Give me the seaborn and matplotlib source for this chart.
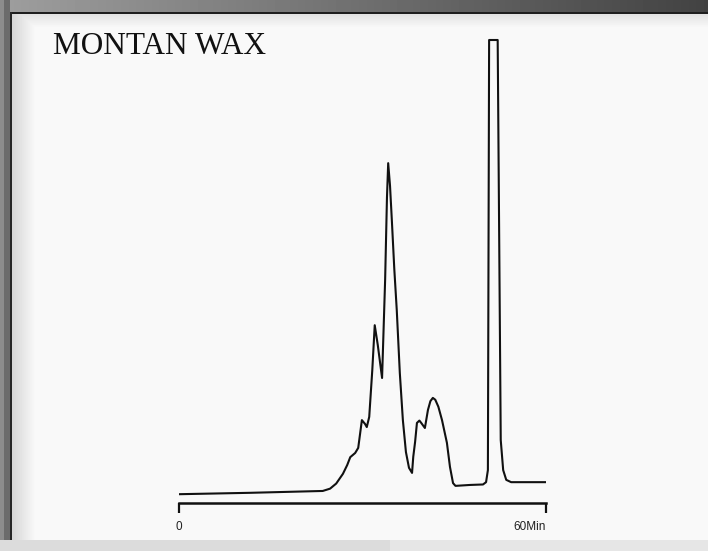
"""Montan wax gas chromatogram, redrawn from a scanned trace."""
import matplotlib
matplotlib.use("Agg")
import matplotlib.pyplot as plt
import numpy as np
import pandas as pd
import seaborn as sns

# retention time (min) and detector response (% of full scale)
time_min = [0.0, 11.6, 23.5, 24.7, 25.7, 26.8, 27.5, 28.0, 28.8, 29.3, 29.9,
            30.4, 30.7, 31.1, 31.6, 32.0, 32.5, 33.2, 33.7, 34.0, 34.2, 34.5,
            34.8, 35.2, 35.6, 36.1, 36.6, 37.1, 37.6, 38.1, 38.3, 38.6, 38.9,
            39.3, 39.6, 40.2, 40.7, 41.1, 41.5, 41.9, 42.4, 43.0, 43.8, 44.3,
            44.8, 45.2, 47.6, 49.7, 50.2, 50.5, 50.7, 52.1, 52.6, 53.0, 53.5,
            54.3, 60.0]
response = [1.9, 2.2, 2.6, 3.1, 4.2, 6.3, 8.2, 9.9, 10.8, 11.9, 17.9,
            17.1, 16.4, 18.6, 28.7, 38.4, 34.1, 27.0, 48.2, 66.0, 73.4, 68.5,
            61.0, 50.5, 41.7, 28.1, 17.9, 11.0, 7.6, 6.5, 10.0, 13.2, 17.3,
            17.8, 17.3, 16.2, 20.1, 22.0, 22.7, 22.3, 20.8, 17.9, 13.0, 7.8,
            4.3, 3.7, 3.9, 4.0, 4.5, 7.1, 100.0, 100.0, 13.6, 7.1, 5.0,
            4.5, 4.5]

title = "MONTAN WAX"
tick_pos = [0, 60]
tick_labels = ["0", "60Min"]

df = pd.DataFrame({"time": time_min, "resp": response})

sns.set_style("white")
plt.rcParams["font.family"] = ["Liberation Sans", "DejaVu Sans"]

W, H = 708, 551
fig = plt.figure(figsize=(W / 100, H / 100), dpi=100)

# scanned-page backdrop: grey frame, dark inner edge, soft shadow
img = np.full((H, W), 0.975)
img[:13, :] = np.linspace(0.62, 0.26, W)[None, :]
img[:, :10] = 0.42
img[:, :4] = 0.55
img[540:, :] = 0.86
img[540:, 390:] = 0.90
img[13:540, 12:36] = np.minimum(img[13:540, 12:36], np.linspace(0.84, 0.975, 24)[None, :])
img[13:28, 12:] = np.minimum(img[13:28, 12:], np.linspace(0.88, 0.975, 15)[:, None])
img[12:14, 10:] = 0.12
img[12:540, 10:12] = 0.15
bg = fig.add_axes([0, 0, 1, 1], zorder=0)
bg.imshow(img, cmap="gray", vmin=0, vmax=1, aspect="auto", interpolation="bilinear")
bg.axis("off")

fig.text(53 / W, 1 - 54 / H, title, family="Liberation Serif", fontsize=22.5,
         color="#111111", ha="left", va="baseline")

# plot area: x 0..60 min spans px 179..546, y 0 at px 503, full scale at px 40
x0, x1, yb, yt = 179, 546, 503, 40
ymax = 102
top_px = yb - (yb - yt) * ymax / 100
ax = fig.add_axes([x0 / W, 1 - yb / H, (x1 - x0) / W, (yb - top_px) / H], zorder=1)
ax.patch.set_alpha(0)

sns.lineplot(data=df, x="time", y="resp", sort=False, estimator=None,
             color="#111111", linewidth=1.5, ax=ax)

ax.set_xlim(0, 60)
ax.set_ylim(0, ymax)
for s in ("top", "right", "left"):
    ax.spines[s].set_visible(False)
ax.spines["bottom"].set_linewidth(1.8)
ax.spines["bottom"].set_color("#111111")
ax.set_yticks([])
ax.set_xticks(tick_pos, labels=tick_labels)
ax.tick_params(axis="x", bottom=True, direction="out", length=7, width=1.6,
               color="#111111", pad=6, labelsize=8.5, labelcolor="#222222")
ax.get_xticklabels()[1].set_horizontalalignment("right")
ax.get_xticklabels()[1].set_x(60.4)
ax.set_xlabel("")
ax.set_ylabel("")

fig.savefig("out.png", dpi=100)
